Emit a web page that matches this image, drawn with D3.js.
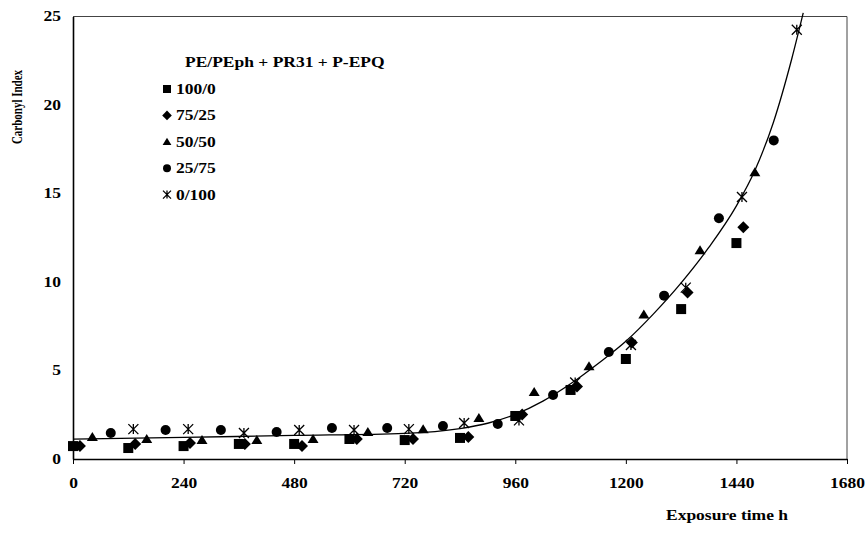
<!DOCTYPE html>
<html>
<head>
<meta charset="utf-8">
<script src="https://cdn.jsdelivr.net/npm/d3@7/dist/d3.min.js"></script>
<style>
  body { margin: 0; background: #fff; }
  svg { display: block; }
  text { font-family: "Liberation Serif", "Times New Roman", serif; font-weight: bold; fill: #000; }
</style>
</head>
<body>
<svg id="chart" width="868" height="536"></svg>
<script>
// Exposure time (h) and carbonyl index for each PE/PEph blend ratio
const series = ["100/0", "75/25", "50/50", "25/75", "0/100"];
const symbols = ["square", "diamond", "triangle", "circle", "asterisk"];

const x100_0 = [0, 120, 240, 360, 480, 600, 720, 840, 960, 1080, 1200, 1320, 1440];
const y100_0 = [0.73, 0.62, 0.73, 0.85, 0.85, 1.13, 1.07, 1.19, 2.43, 3.9, 5.65, 8.47, 12.2];

const x75_25 = [15, 135, 254, 373, 497, 616, 738, 858, 975, 1094, 1213, 1334, 1455];
const y75_25 = [0.73, 0.85, 0.9, 0.85, 0.73, 1.13, 1.13, 1.24, 2.52, 4.1, 6.58, 9.4, 13.1];

const x50_50 = [42, 160, 280, 399, 521, 640, 760, 881, 1001, 1120, 1239, 1361, 1480];
const y50_50 = [1.24, 1.13, 1.07, 1.07, 1.13, 1.53, 1.69, 2.32, 3.79, 5.25, 8.17, 11.8, 16.2];

const x25_75 = [82, 201, 321, 442, 562, 682, 803, 922, 1042, 1163, 1283, 1402, 1521];
const y25_75 = [1.47, 1.64, 1.64, 1.53, 1.75, 1.75, 1.86, 1.98, 3.62, 6.05, 9.23, 13.6, 18.0];

const x0_100 = [131, 250, 371, 491, 610, 729, 849, 968, 1090, 1211, 1330, 1452, 1571];
const y0_100 = [1.69, 1.69, 1.47, 1.64, 1.64, 1.69, 2.03, 2.18, 4.32, 6.44, 9.68, 14.8, 24.25];

// Fitted trend curve through all blends
const trendX = [0, 240, 480, 720, 840, 900, 960, 1020, 1080, 1140, 1200, 1260, 1320, 1380, 1440, 1480, 1520, 1560, 1585];
const trendY = [1.12, 1.22, 1.33, 1.45, 1.72, 2.02, 2.52, 3.27, 4.25, 5.4, 6.65, 8.2, 9.95, 11.95, 14.3, 16.3, 19.0, 22.6, 25.2];

const xTicks = [0, 240, 480, 720, 960, 1200, 1440, 1680];
const yTicks = [0, 5, 10, 15, 20, 25];

const legendTitle = "PE/PEph + PR31 + P-EPQ";
const xTitle = "Exposure time h";
const yTitle = "Carbonyl Index";

const xs = [x100_0, x75_25, x50_50, x25_75, x0_100];
const ys = [y100_0, y75_25, y50_50, y25_75, y0_100];

const svg = d3.select("#chart");
const plotL = 73, plotR = 847, plotT = 16.5, plotB = 459;
const wide = 1.25; // horizontal widening of the lettering

const x = d3.scaleLinear().domain([0, 1680]).range([plotL, plotR]);
const y = d3.scaleLinear().domain([0, 25]).range([plotB, plotT]);

// Plot frame (top and right edges)
svg.append("path")
  .attr("d", `M${plotL},${plotT}H${plotR}V${plotB}`)
  .attr("fill", "none").attr("stroke", "#444").attr("stroke-width", 1);

// X axis
const xAxis = svg.append("g").attr("transform", `translate(0,${plotB})`)
  .call(d3.axisBottom(x).tickValues(xTicks).tickFormat(d3.format("d"))
    .tickSize(5).tickSizeOuter(0).tickPadding(14));
xAxis.select(".domain").attr("stroke", "#000").attr("stroke-width", 1.6);
xAxis.selectAll(".tick line").attr("stroke", "#000").attr("stroke-width", 1);
xAxis.selectAll("text")
  .attr("font-size", 14).attr("font-family", "Liberation Serif").attr("font-weight", "bold")
  .attr("transform", `scale(${wide},1)`);

// Y axis
const yAxis = svg.append("g").attr("transform", `translate(${plotL},0)`)
  .call(d3.axisLeft(y).tickValues(yTicks).tickFormat(d3.format("d"))
    .tickSize(0).tickSizeOuter(0));
yAxis.select(".domain").attr("stroke", "#000").attr("stroke-width", 1.6);
yAxis.selectAll("text")
  .attr("font-size", 14).attr("font-family", "Liberation Serif").attr("font-weight", "bold")
  .attr("x", -12 / wide)
  .attr("transform", `scale(${wide},1)`);

// Axis titles
svg.append("text").attr("transform", `translate(727,520) scale(${wide},1)`).attr("text-anchor", "middle")
  .attr("font-size", 14).text(xTitle);
svg.append("text").attr("transform", `translate(22,107) scale(${wide},1) rotate(-90)`).attr("text-anchor", "middle")
  .attr("font-size", 11).text(yTitle);

// Trend curve
const line = d3.line().x((d, i) => x(trendX[i])).y(d => y(d)).curve(d3.curveMonotoneX);
svg.append("path").datum(trendY)
  .attr("d", line).attr("fill", "none").attr("stroke", "#000").attr("stroke-width", 1.3);

// Marker shapes
function drawSymbol(g, kind, s) {
  if (kind === "square") {
    g.append("rect").attr("x", -s / 2).attr("y", -s / 2).attr("width", s).attr("height", s).attr("fill", "#000");
  } else if (kind === "diamond") {
    const h = s * 0.6;
    g.append("path").attr("d", `M0,${-h}L${h},0L0,${h}L${-h},0Z`).attr("fill", "#000");
  } else if (kind === "triangle") {
    const h = s * 0.9;
    g.append("path").attr("d", `M0,${-h * 0.55}L${s * 0.55},${h * 0.45}L${-s * 0.55},${h * 0.45}Z`).attr("fill", "#000");
  } else if (kind === "circle") {
    g.append("circle").attr("r", s / 2).attr("fill", "#000");
  } else {
    const r = s / 2;
    g.append("path")
      .attr("d", `M${-r},${-r}L${r},${r}M${-r},${r}L${r},${-r}M0,${-r}V${r}`)
      .attr("stroke", "#000").attr("stroke-width", 1.3).attr("fill", "none");
  }
}

series.forEach((name, si) => {
  const g = svg.append("g").attr("class", "series");
  xs[si].forEach((xv, i) => {
    const p = g.append("g").attr("transform", `translate(${x(xv)},${y(ys[si][i])})`);
    drawSymbol(p, symbols[si], 10);
  });
});

// Legend
const legend = svg.append("g");
legend.append("text").attr("transform", `translate(185,67) scale(${wide},1)`)
  .attr("font-size", 14).text(legendTitle);
series.forEach((name, i) => {
  const cy = 89 + i * 26.4;
  const p = legend.append("g").attr("transform", `translate(167,${cy})`);
  drawSymbol(p, symbols[i], 8);
  legend.append("text").attr("transform", `translate(176,${cy + 5}) scale(${wide},1)`)
    .attr("font-size", 14).text(name);
});
</script>
</body>
</html>
